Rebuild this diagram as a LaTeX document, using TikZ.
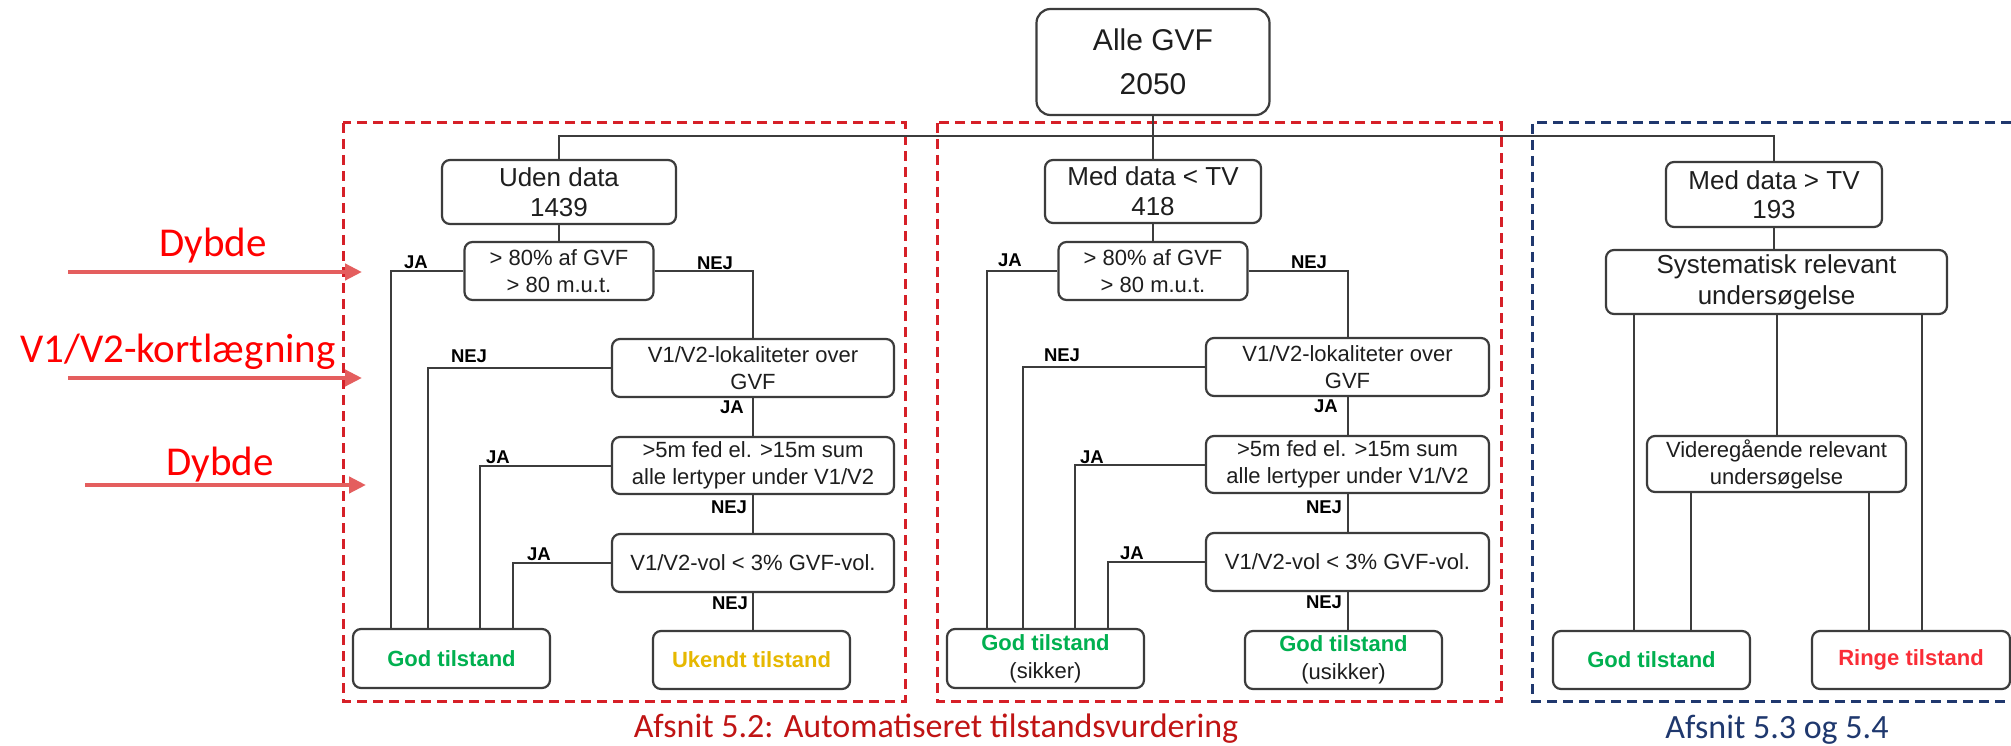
\documentclass[tikz,border=0pt]{standalone}
\usepackage{fontspec}
\setmainfont{Liberation Sans}
\newfontfamily\calib{Carlito}
\usetikzlibrary{arrows.meta}
\definecolor{boxc}{RGB}{60,60,60}
\definecolor{txt}{RGB}{30,30,30}
\definecolor{dashred}{RGB}{214,32,40}
\definecolor{dashblue}{RGB}{32,56,110}
\definecolor{goodgreen}{RGB}{0,176,80}
\definecolor{unkyellow}{RGB}{230,184,0}
\definecolor{badred}{RGB}{250,45,55}
\definecolor{arrred}{RGB}{228,94,94}
\definecolor{lblred}{RGB}{255,0,0}
\definecolor{capred}{RGB}{192,20,20}
\definecolor{capblue}{RGB}{31,56,110}
\begin{document}
\begin{tikzpicture}[x=1pt,y=-1pt,
 box/.style={draw=boxc,line width=2.2pt,rounded corners=8pt,inner sep=0pt,align=center,text=txt},
 titlebox/.style={box,font=\fontsize{26}{30}\selectfont},
 quest/.style={box,font=\fontsize{22}{27}\selectfont,minimum width=282pt,minimum height=58pt},
 result/.style={box,font=\fontsize{22}{28}\selectfont,minimum width=197pt,minimum height=58pt},
 yn/.style={font=\bfseries\fontsize{18.5}{20}\selectfont,text=black,inner sep=0pt},
 conn/.style={draw=boxc,line width=2pt},
 secbox/.style={line width=3pt,dash pattern=on 10pt off 6pt},
 sidearrow/.style={draw=arrred,line width=4.5pt,-{Triangle[length=17pt,width=16pt]}},
 sidelbl/.style={font=\calib\fontsize{41}{45}\selectfont,text=lblred,inner sep=0pt,anchor=base},
 capt/.style={font=\calib\fontsize{34}{38}\selectfont,inner sep=0pt,anchor=base}
]
\fill[white] (0,0) rectangle (2011,746);
\useasboundingbox (0,0) rectangle (2011,746);

% section frames
\draw[secbox,dashred] (343,123) rectangle (905,701);
\draw[secbox,dashred] (937,123) rectangle (1501,701);
\draw[secbox,dashblue] (2011,123) -- (1532,123) -- (1532,701) -- (2011,701);

% top
\node[titlebox,rounded corners=14pt,font=\fontsize{30}{44}\selectfont,minimum width=233pt,minimum height=106pt] (alle) at (1153,62) {Alle GVF\\2050};
\node[titlebox,minimum width=234pt,minimum height=64pt] (uden) at (559,192) {Uden data\\1439};
\node[titlebox,minimum width=216pt,minimum height=63pt] (medlt) at (1153,191.5) {Med data < TV\\418};
\node[titlebox,font=\fontsize{26}{29}\selectfont,minimum width=216pt,minimum height=65pt] (medgt) at (1774,194.5) {Med data > TV\\193};

% section A
\node[quest,minimum width=189pt] (qa1) at (559,271) {> 80\% af GVF\\> 80 m.u.t.};
\node[quest] (qa2) at (753,368) {V1/V2-lokaliteter over\\GVF};
\node[quest,minimum height=57pt] (qa3) at (753,465.5) {>5m fed el. >15m sum\\alle lertyper under V1/V2};
\node[quest] (qa4) at (753,563) {V1/V2-vol < 3\% GVF-vol.};
\node[result,minimum height=59pt] (ra1) at (451.5,658.5) {\textcolor{goodgreen}{\bfseries God tilstand}};
\node[result] (ra2) at (751.5,660) {\textcolor{unkyellow}{\bfseries Ukendt tilstand}};

% section B
\node[quest,minimum width=189pt] (qb1) at (1153,271) {> 80\% af GVF\\> 80 m.u.t.};
\node[quest,minimum width=283pt] (qb2) at (1347.5,367) {V1/V2-lokaliteter over\\GVF};
\node[quest,minimum width=283pt,minimum height=57pt] (qb3) at (1347.5,464.5) {>5m fed el. >15m sum\\alle lertyper under V1/V2};
\node[quest,minimum width=283pt] (qb4) at (1347.5,562) {V1/V2-vol < 3\% GVF-vol.};
\node[result,minimum height=59pt] (rb1) at (1045.5,658.5) {\textcolor{goodgreen}{\bfseries God tilstand}\\(sikker)};
\node[result] (rb2) at (1343.5,660) {\textcolor{goodgreen}{\bfseries God tilstand}\\(usikker)};

% section C
\node[titlebox,font=\fontsize{26}{31}\selectfont,minimum width=341pt,minimum height=64pt] (sys) at (1776.5,282) {Systematisk relevant\\undersøgelse};
\node[box,font=\fontsize{22}{27}\selectfont,minimum width=259pt,minimum height=56pt] (vid) at (1776.5,464) {Videregående relevant\\undersøgelse};
\node[result] (rc1) at (1651.5,660) {\textcolor{goodgreen}{\bfseries God tilstand}};
\node[result,minimum width=198pt] (rc2) at (1911,660) {\textcolor{badred}{\bfseries Ringe tilstand}};

% bus
\coordinate (busR) at (1774,136);
\draw[conn] (uden.north) -- (uden.north |- busR) -- (busR) -- (medgt.north);
\draw[conn] (alle.south) -- (medlt.north);

% connectors A
\draw[conn] (uden.south) -- (qa1.north);
\draw[conn] (qa1.west) -| ([xshift=-60.5pt]ra1.north);
\draw[conn] (qa1.east) -| (qa2.north);
\draw[conn] (qa2.west) -| ([xshift=-23.5pt]ra1.north);
\draw[conn] (qa2.south) -- (qa3.north);
\draw[conn] (qa3.west) -| ([xshift=28.5pt]ra1.north);
\draw[conn] (qa3.south) -- (qa4.north);
\draw[conn] (qa4.west) -| ([xshift=61.5pt]ra1.north);
\draw[conn] (qa4.south) -- (qa4.south |- ra2.north);

% connectors B
\draw[conn] (medlt.south) -- (qb1.north);
\draw[conn] (qb1.west) -| ([xshift=-58.5pt]rb1.north);
\draw[conn] (qb1.east) -| (qb2.north);
\draw[conn] (qb2.west) -| ([xshift=-22.5pt]rb1.north);
\draw[conn] (qb2.south) -- (qb3.north);
\draw[conn] (qb3.west) -| ([xshift=29.5pt]rb1.north);
\draw[conn] (qb3.south) -- (qb4.north);
\draw[conn] (qb4.west) -| ([xshift=62.5pt]rb1.north);
\draw[conn] (qb4.south) -- (qb4.south |- rb2.north);

% connectors C
\draw[conn] (medgt.south) -- (medgt.south |- sys.north);
\draw[conn] ([xshift=-17.5pt]rc1.north) -- ([xshift=-17.5pt]rc1.north |- sys.south);
\draw[conn] (sys.south) -- (vid.north);
\draw[conn] ([xshift=11pt]rc2.north) -- ([xshift=11pt]rc2.north |- sys.south);
\draw[conn] ([xshift=39.5pt]rc1.north) -- ([xshift=39.5pt]rc1.north |- vid.south);
\draw[conn] ([xshift=-42pt]rc2.north) -- ([xshift=-42pt]rc2.north |- vid.south);

% JA / NEJ labels A
\node[yn] (la1) at (416,262) {JA};
\node[yn] (la2) at (715,263) {NEJ};
\node[yn] (la3) at (469,356) {NEJ};
\node[yn] (la4) at (732,407) {JA};
\node[yn] (la5) at (498,457) {JA};
\node[yn] (la6) at (729,507) {NEJ};
\node[yn] (la7) at (539,554) {JA};
\node[yn] (la8) at (730,603) {NEJ};
% labels B
\node[yn] (lb1) at (1010,260) {JA};
\node[yn] (lb2) at (1309,262) {NEJ};
\node[yn] (lb3) at (1062,355) {NEJ};
\node[yn] (lb4) at (1326,406) {JA};
\node[yn] (lb5) at (1092,457) {JA};
\node[yn] (lb6) at (1324,507) {NEJ};
\node[yn] (lb7) at (1132,553) {JA};
\node[yn] (lb8) at (1324,602) {NEJ};

% side arrows
\coordinate (s1) at (68,272); \coordinate (e1) at (362,272);
\coordinate (s2) at (68,378); \coordinate (e2) at (362,378);
\coordinate (s3) at (85,485); \coordinate (e3) at (366,485);
\draw[sidearrow] (s1) -- (e1);
\draw[sidearrow] (s2) -- (e2);
\draw[sidearrow] (s3) -- (e3);
\node[sidelbl] (t1) at (213,257) {Dybde};
\node[sidelbl] (t2) at (178,362) {V1/V2-kortlægning};
\node[sidelbl] (t3) at (220,475) {Dybde};

% captions
\node[capt,text=capred] (c1) at (936,737) {Afsnit 5.2: Automatiseret tilstandsvurdering};
\node[capt,text=capblue] (c2) at (1777,738) {Afsnit 5.3 og 5.4};
\end{tikzpicture}
\end{document}
